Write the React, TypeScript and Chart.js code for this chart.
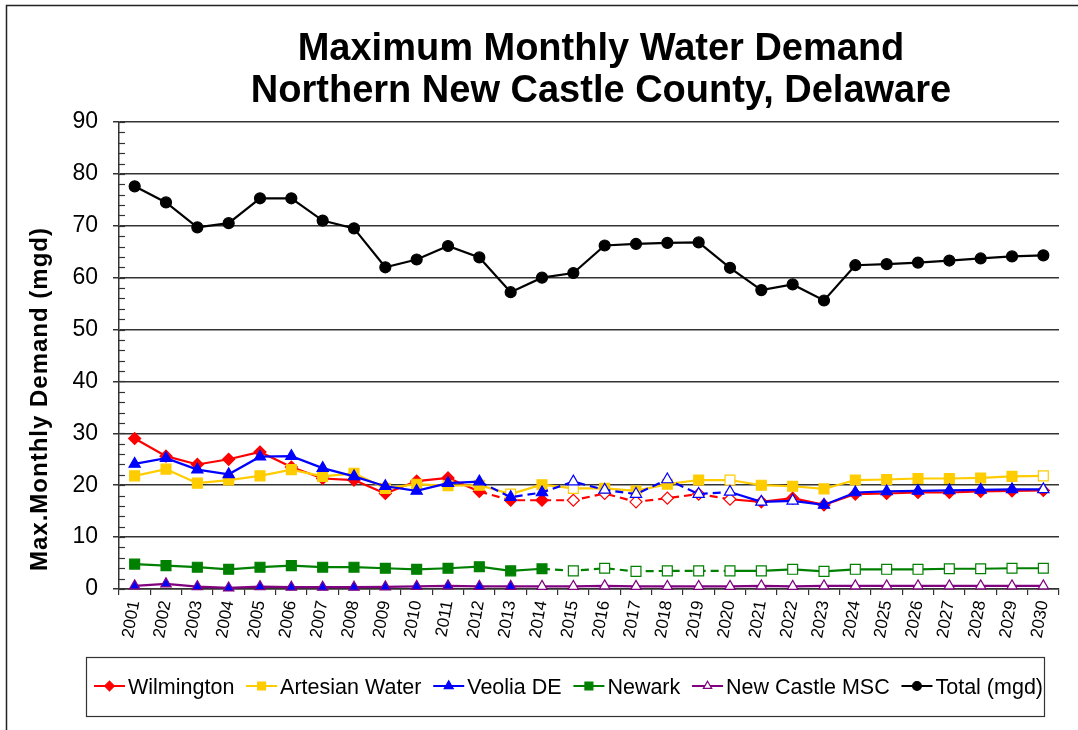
import React, { useEffect, useRef } from "react";
import { Chart, registerables } from "chart.js";

Chart.register(...registerables);

const years = [
  "2001", "2002", "2003", "2004", "2005", "2006", "2007", "2008", "2009", "2010",
  "2011", "2012", "2013", "2014", "2015", "2016", "2017", "2018", "2019", "2020",
  "2021", "2022", "2023", "2024", "2025", "2026", "2027", "2028", "2029", "2030",
];

const wilmington = [29.0, 25.6, 24.0, 25.0, 26.4, 23.5, 21.3, 21.0, 18.4, 20.8, 21.4, 18.8, 17.1, 17.1, 17.1, 18.4, 16.8, 17.5, 18.3, 17.3, 16.8, 17.5, 16.2, 18.3, 18.4, 18.6, 18.6, 18.8, 18.9, 19.0];
const artesian = [21.8, 23.1, 20.4, 21.0, 21.8, 23.0, 21.7, 22.3, 19.4, 20.2, 19.9, 20.0, 18.3, 20.1, 19.4, 19.4, 18.9, 20.2, 21.0, 21.0, 20.0, 19.8, 19.3, 21.0, 21.1, 21.3, 21.3, 21.4, 21.7, 21.8];
const veolia = [24.1, 25.2, 23.0, 22.1, 25.5, 25.6, 23.3, 21.7, 19.8, 18.9, 20.4, 20.7, 17.7, 18.6, 20.7, 19.1, 18.3, 21.1, 18.3, 18.7, 16.8, 17.0, 16.2, 18.6, 18.8, 18.9, 19.0, 19.1, 19.2, 19.2];
const newark = [4.8, 4.5, 4.2, 3.8, 4.2, 4.5, 4.2, 4.2, 4.0, 3.8, 4.0, 4.3, 3.5, 3.9, 3.5, 4.0, 3.4, 3.5, 3.5, 3.5, 3.5, 3.8, 3.4, 3.8, 3.8, 3.8, 3.9, 3.9, 4.0, 4.0];
const newCastleMSC = [0.6, 1.0, 0.45, 0.2, 0.45, 0.35, 0.35, 0.35, 0.4, 0.5, 0.6, 0.5, 0.5, 0.5, 0.5, 0.6, 0.5, 0.5, 0.5, 0.5, 0.6, 0.5, 0.6, 0.6, 0.6, 0.6, 0.6, 0.6, 0.6, 0.6];
const total = [77.6, 74.5, 69.7, 70.5, 75.3, 75.3, 71.0, 69.5, 62.0, 63.5, 66.1, 63.9, 57.2, 60.0, 60.9, 66.2, 66.5, 66.7, 66.8, 61.9, 57.6, 58.7, 55.6, 62.4, 62.6, 62.9, 63.3, 63.7, 64.1, 64.3];

// Years plotted with hollow (projected) markers
const wilmingtonHollow = ["2015", "2016", "2017", "2018", "2019", "2020"];
const artesianHollow = ["2013", "2015", "2020", "2030"];
const veoliaHollow = ["2015", "2016", "2017", "2018", "2019", "2020", "2021", "2022", "2030"];
const newarkHollow = ["2015", "2016", "2017", "2018", "2019", "2020", "2021", "2022", "2023", "2024", "2025", "2026", "2027", "2028", "2029", "2030"];
const newCastleHollow = ["2014", "2015", "2016", "2017", "2018", "2019", "2020", "2021", "2022", "2023", "2024", "2025", "2026", "2027", "2028", "2029", "2030"];
const totalHollow: string[] = [];

// Year spans drawn with a dashed line
const wilmingtonDashed = ["2012", "2020"];
const veoliaDashed = ["2012", "2020"];
const newarkDashed = ["2014", "2020"];

const yTicks = [0, 10, 20, 30, 40, 50, 60, 70, 80, 90];

const titleLines = ["Maximum Monthly Water Demand", "Northern New Castle County, Delaware"];
const yTitle = "Max.Monthly Demand (mgd)";

const FONT = "'Liberation Sans', Arial, sans-serif";
const GRID = "#333333";

type SeriesDef = {
  label: string;
  data: number[];
  color: string;
  fill: string;
  style: string;
  radius: number;
  hollow: string[];
  dashed: string[] | null;
  legendHollow: boolean;
};

const series: SeriesDef[] = [
  { label: "Wilmington", data: wilmington, color: "#FF0000", fill: "#FF0000", style: "rectRot", radius: 6, hollow: wilmingtonHollow, dashed: wilmingtonDashed, legendHollow: false },
  { label: "Artesian Water", data: artesian, color: "#FFCC00", fill: "#FFCC00", style: "rect", radius: 7, hollow: artesianHollow, dashed: null, legendHollow: false },
  { label: "Veolia DE", data: veolia, color: "#0000FF", fill: "#0000FF", style: "triangle", radius: 6.5, hollow: veoliaHollow, dashed: veoliaDashed, legendHollow: false },
  { label: "Newark", data: newark, color: "#008000", fill: "#008000", style: "rect", radius: 7, hollow: newarkHollow, dashed: newarkDashed, legendHollow: false },
  { label: "New Castle MSC", data: newCastleMSC, color: "#800080", fill: "#0000FF", style: "triangle", radius: 6, hollow: newCastleHollow, dashed: null, legendHollow: true },
  { label: "Total (mgd)", data: total, color: "#000000", fill: "#000000", style: "circle", radius: 5.5, hollow: totalHollow, dashed: null, legendHollow: false },
];

function drawMarker(ctx: CanvasRenderingContext2D, style: string, x: number, y: number, r: number, fill: string, stroke: string) {
  ctx.beginPath();
  if (style === "circle") {
    ctx.arc(x, y, r, 0, Math.PI * 2);
  } else if (style === "rect") {
    const s = Math.SQRT1_2 * r;
    ctx.rect(x - s, y - s, 2 * s, 2 * s);
  } else if (style === "rectRot") {
    ctx.moveTo(x, y - r);
    ctx.lineTo(x + r, y);
    ctx.lineTo(x, y + r);
    ctx.lineTo(x - r, y);
    ctx.closePath();
  } else if (style === "triangle") {
    let a = 0;
    ctx.moveTo(x + Math.sin(a) * r, y - Math.cos(a) * r);
    a += (2 * Math.PI) / 3;
    ctx.lineTo(x + Math.sin(a) * r, y - Math.cos(a) * r);
    a += (2 * Math.PI) / 3;
    ctx.lineTo(x + Math.sin(a) * r, y - Math.cos(a) * r);
    ctx.closePath();
  }
  ctx.fillStyle = fill;
  ctx.fill();
  ctx.lineWidth = 1.2;
  ctx.strokeStyle = stroke;
  ctx.stroke();
}

const decorPlugin = {
  id: "decor",
  afterDraw(chart: any) {
    const ctx: CanvasRenderingContext2D = chart.ctx;
    const area = chart.chartArea;
    const yScale = chart.scales.y;
    ctx.save();

    // outer frame (left + top)
    ctx.strokeStyle = "#222";
    ctx.lineWidth = 1.5;
    ctx.beginPath();
    ctx.moveTo(6.5, 730);
    ctx.lineTo(6.5, 5.5);
    ctx.lineTo(1078, 5.5);
    ctx.stroke();

    // title
    ctx.fillStyle = "#000";
    ctx.font = `bold 38px ${FONT}`;
    ctx.textAlign = "center";
    ctx.textBaseline = "alphabetic";
    ctx.fillText(titleLines[0], 601, 60);
    ctx.fillText(titleLines[1], 601, 102);

    // y title
    ctx.save();
    ctx.translate(47, 399);
    ctx.rotate(-Math.PI / 2);
    ctx.font = `bold 24px ${FONT}`;
    (ctx as any).letterSpacing = "1px";
    ctx.fillText(yTitle, 0, 0);
    ctx.restore();

    // inside tick marks every 2 units
    ctx.strokeStyle = GRID;
    ctx.lineWidth = 1.2;
    for (let v = 0; v <= 90; v += 2) {
      const py = Math.round(yScale.getPixelForValue(v)) + 0.5;
      ctx.beginPath();
      ctx.moveTo(area.left, py);
      ctx.lineTo(area.left + 6, py);
      ctx.stroke();
    }

    // legend
    const boxL = 86.5, boxT = 657.5, boxR = 1044.5, boxB = 716.5;
    ctx.strokeStyle = "#333";
    ctx.lineWidth = 1.2;
    ctx.strokeRect(boxL, boxT, boxR - boxL, boxB - boxT);
    ctx.font = `21.5px ${FONT}`;
    ctx.textAlign = "left";
    ctx.textBaseline = "alphabetic";
    const swatchW = 31;
    const textGap = 3;
    const widths = series.map((s) => ctx.measureText(s.label).width);
    const startX = 94;
    const endX = 1043;
    const used = widths.reduce((a, w) => a + w + swatchW + textGap, 0);
    const gap = (endX - startX - used) / (series.length - 1);
    let x = startX;
    const lineY = 686;
    series.forEach((s, i) => {
      ctx.strokeStyle = s.color;
      ctx.lineWidth = 2;
      ctx.beginPath();
      ctx.moveTo(x, lineY);
      ctx.lineTo(x + swatchW, lineY);
      ctx.stroke();
      drawMarker(ctx, s.style, x + swatchW / 2, lineY, s.radius * 0.8, s.legendHollow ? "#fff" : s.color, s.color);
      ctx.fillStyle = "#000";
      ctx.fillText(s.label, x + swatchW + textGap, 693.5);
      x += swatchW + textGap + widths[i] + gap;
    });

    ctx.restore();
  },
};

export default function App() {
  const canvasRef = useRef<HTMLCanvasElement | null>(null);

  useEffect(() => {
    if (!canvasRef.current) return;
    const datasets = series.map((s, idx) => {
      const from = s.dashed ? years.indexOf(s.dashed[0]) : -1;
      const to = s.dashed ? years.indexOf(s.dashed[1]) : -1;
      return {
        label: s.label,
        data: s.data,
        borderColor: s.color,
        backgroundColor: s.color,
        borderWidth: 2.2,
        pointStyle: s.style,
        pointRadius: s.radius,
        pointBorderWidth: 1.2,
        pointBorderColor: s.color,
        pointBackgroundColor: years.map((y) => (s.hollow.includes(y) ? "#FFFFFF" : s.fill)),
        tension: 0,
        clip: false as any,
        order: series.length - idx,
        segment: {
          borderDash: (c: any) =>
            s.dashed && c.p0DataIndex >= from && c.p1DataIndex <= to ? [8, 5] : undefined,
        },
      };
    });

    const chart = new Chart(canvasRef.current, {
      type: "line",
      data: { labels: years, datasets },
      options: {
        animation: false,
        responsive: true,
        maintainAspectRatio: false,
        devicePixelRatio: 1,
        events: [],
        layout: { padding: { left: 0, top: 122, right: 19, bottom: 81 } },
        plugins: {
          legend: { display: false },
          title: { display: false },
          tooltip: { enabled: false },
        },
        scales: {
          x: {
            type: "category",
            offset: true,
            afterFit: (sc: any) => {
              sc.height = 60;
            },
            grid: {
              offset: true,
              drawOnChartArea: false,
              drawTicks: true,
              tickLength: 6,
              color: GRID,
              lineWidth: 1.2,
            },
            border: { display: true, color: GRID, width: 1.5 },
            ticks: {
              autoSkip: false,
              minRotation: 80,
              maxRotation: 80,
              padding: 4,
              color: "#000",
              font: { family: FONT, size: 17 },
            },
          },
          y: {
            min: 0,
            max: 90,
            afterFit: (sc: any) => {
              sc.width = 119;
            },
            afterBuildTicks: (sc: any) => {
              sc.ticks = yTicks.map((v) => ({ value: v }));
            },
            grid: {
              color: GRID,
              lineWidth: 1.5,
              tickLength: 6,
              drawTicks: true,
            },
            border: { display: true, color: GRID, width: 1.5 },
            ticks: {
              padding: 15,
              color: "#000",
              font: { family: FONT, size: 23 },
            },
          },
        },
      },
      plugins: [decorPlugin],
    });
    return () => chart.destroy();
  }, []);

  return (
    <div style={{ position: "fixed", left: 0, top: 0, width: 1078, height: 730, background: "#fff" }}>
      <canvas ref={canvasRef} />
    </div>
  );
}
